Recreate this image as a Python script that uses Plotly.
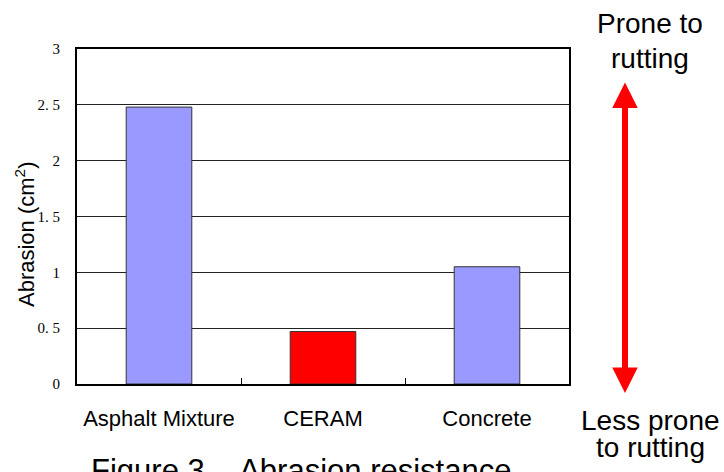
import plotly.graph_objects as go

categories = ["Asphalt Mixture", "CERAM", "Concrete"]
abrasion = [2.48, 0.47, 1.05]
bar_colors = ["#9999FF", "#FF0000", "#9999FF"]
ytick_vals = [0, 0.5, 1, 1.5, 2, 2.5, 3]
ytick_text = ["0", "0. 5", "1", "1. 5", "2", "2. 5", "3"]

W, H = 724, 472
L, R, T, B = 77, 569, 49, 384

def px(x):
    return (x - L) / (R - L)

def py(y):
    return (B - y) / (B - T)

fig = go.Figure()
fig.add_trace(go.Bar(
    x=categories, y=abrasion, width=0.4,
    marker=dict(color=bar_colors, line=dict(color="#333333", width=1)),
))

sans = "Liberation Sans, Arial, sans-serif"

fig.update_layout(
    width=W, height=H,
    margin=dict(l=L, r=W - R, t=T, b=H - B),
    paper_bgcolor="white", plot_bgcolor="white",
    showlegend=False,
    xaxis=dict(
        showline=True, mirror=True, linecolor="black", linewidth=2,
        showgrid=False, ticks="inside", tickson="boundaries", ticklen=6,
        tickcolor="black", tickwidth=1,
        tickfont=dict(family=sans, size=22, color="black"),
        ticklabelstandoff=14,
    ),
    yaxis=dict(
        range=[0, 3], tickvals=ytick_vals, ticktext=ytick_text,
        showline=True, mirror=True, linecolor="black", linewidth=2,
        showgrid=True, gridcolor="#222222", gridwidth=1,
        zeroline=False, ticks="",
        tickfont=dict(family="Liberation Serif, Times New Roman, serif", size=15, color="black"),
        ticklabelstandoff=12,
    ),
)

ann = []
ann.append(dict(text="Abrasion (cm<sup>2</sup>)", textangle=-90, xref="paper", yref="paper",
                x=px(25), y=py(235), xanchor="center", yanchor="middle", showarrow=False,
                font=dict(family=sans, size=22, color="black")))
ann.append(dict(text="Figure 3\u00a0\u00a0\u00a0\u00a0Abrasion resistance", xref="paper", yref="paper",
                x=px(301), y=py(470), xanchor="center", yanchor="middle", showarrow=False,
                font=dict(family=sans, size=31, color="black")))
for txt, base in [("Prone to", 33), ("rutting", 68), ("Less prone", 430), ("to rutting", 457)]:
    ann.append(dict(text=txt, xref="paper", yref="paper", x=px(650), y=py(base - 9.7),
                    xanchor="center", yanchor="middle", showarrow=False,
                    font=dict(family=sans, size=28, color="black")))
ann.append(dict(text="", xref="paper", yref="paper", x=px(625), y=py(393),
                ax=0, ay=-(393 - 81), axref="pixel", ayref="pixel",
                showarrow=True, arrowside="end+start", arrowhead=2, startarrowhead=2,
                arrowwidth=6, arrowsize=0.85, startarrowsize=0.85, arrowcolor="#FF0000",
                font=dict(size=1)))
fig.update_layout(annotations=ann)

fig.write_html("out.html", config={"displayModeBar": False},
               post_script="document.body.style.margin='0';document.body.style.overflow='hidden';")
